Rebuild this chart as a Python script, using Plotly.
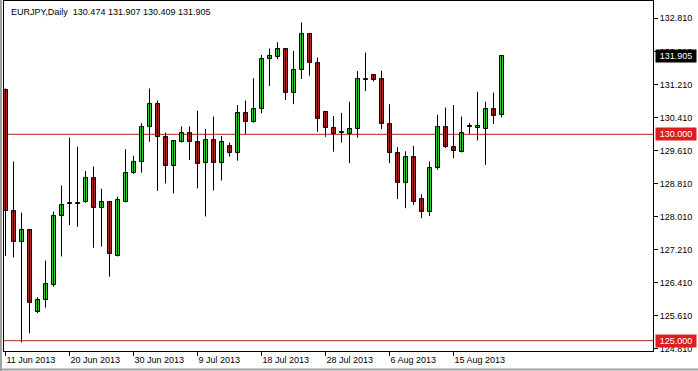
import plotly.graph_objects as go

# ---- data ----
dates = [
    "11 Jun 2013", "12 Jun 2013", "13 Jun 2013", "14 Jun 2013", "16 Jun 2013", "17 Jun 2013",
    "18 Jun 2013", "19 Jun 2013", "20 Jun 2013", "21 Jun 2013", "23 Jun 2013", "24 Jun 2013",
    "25 Jun 2013", "26 Jun 2013", "27 Jun 2013", "28 Jun 2013", "30 Jun 2013", "1 Jul 2013",
    "2 Jul 2013", "3 Jul 2013", "4 Jul 2013", "5 Jul 2013", "7 Jul 2013", "8 Jul 2013",
    "9 Jul 2013", "10 Jul 2013", "11 Jul 2013", "12 Jul 2013", "14 Jul 2013", "15 Jul 2013",
    "16 Jul 2013", "17 Jul 2013", "18 Jul 2013", "19 Jul 2013", "21 Jul 2013", "22 Jul 2013",
    "23 Jul 2013", "24 Jul 2013", "25 Jul 2013", "26 Jul 2013", "28 Jul 2013", "29 Jul 2013",
    "30 Jul 2013", "31 Jul 2013", "1 Aug 2013", "2 Aug 2013", "4 Aug 2013", "5 Aug 2013",
    "6 Aug 2013", "7 Aug 2013", "8 Aug 2013", "9 Aug 2013", "11 Aug 2013", "12 Aug 2013",
    "13 Aug 2013", "14 Aug 2013", "15 Aug 2013", "16 Aug 2013", "18 Aug 2013", "19 Aug 2013",
    "20 Aug 2013", "21 Aug 2013", "22 Aug 2013",
]
opens = [
    131.07, 128.14, 127.40, 127.68, 125.70, 125.99, 126.35, 128.01, 128.30, 128.30,
    128.37, 128.93, 128.21, 128.35, 127.06, 128.37, 129.07, 129.34, 130.17, 130.73,
    129.94, 129.23, 129.82, 130.02, 129.81, 129.30, 129.86, 129.31, 129.72, 129.54,
    130.51, 130.31, 130.61, 131.82, 131.87, 132.06, 131.01, 131.55, 132.43, 131.74,
    130.53, 130.15, 130.02, 130.00, 130.12, 131.32, 131.43, 131.33, 130.24, 129.54,
    128.81, 129.45, 128.43, 128.11, 129.18, 130.17, 129.69, 129.58, 130.17, 130.16,
    130.12, 130.61, 130.474,
]
highs = [
    131.11, 129.34, 128.10, 127.70, 126.05, 126.94, 128.13, 128.76, 129.92, 129.70,
    129.11, 129.22, 128.68, 128.36, 128.49, 129.64, 129.48, 130.27, 131.11, 130.82,
    130.04, 129.86, 130.19, 130.19, 130.57, 130.13, 130.43, 129.96, 129.80, 130.71,
    130.82, 131.36, 131.92, 132.08, 132.23, 132.08, 132.02, 132.71, 132.45, 131.86,
    130.55, 130.44, 130.52, 130.79, 131.53, 131.98, 131.45, 131.54, 130.73, 129.69,
    129.59, 129.72, 128.55, 129.34, 130.47, 130.65, 130.71, 130.43, 130.27, 131.03,
    130.79, 131.01, 131.907,
]
lows = [
    127.05, 127.02, 124.96, 125.18, 125.67, 125.80, 126.31, 127.04, 127.80, 127.76,
    128.34, 127.25, 127.28, 126.55, 127.04, 128.35, 129.04, 129.07, 129.82, 128.63,
    128.81, 128.57, 129.80, 129.38, 128.69, 128.01, 128.64, 128.88, 129.46, 129.36,
    130.01, 130.28, 130.51, 131.17, 131.82, 130.83, 130.73, 131.34, 131.42, 130.06,
    129.94, 129.58, 129.80, 129.30, 129.92, 131.05, 131.28, 130.13, 129.30, 128.43,
    128.21, 128.29, 127.97, 128.02, 129.14, 129.67, 129.42, 129.56, 130.01, 129.85,
    129.26, 130.25, 130.409,
]
closes = [
    128.14, 127.40, 127.68, 125.91, 125.99, 126.37, 128.02, 128.28, 128.30, 128.30,
    128.93, 128.21, 128.35, 127.09, 128.40, 129.07, 129.34, 130.17, 130.73, 129.94,
    129.23, 129.84, 130.02, 129.81, 129.27, 129.86, 129.31, 129.81, 129.54, 130.51,
    130.31, 130.61, 131.82, 131.90, 132.06, 131.01, 131.55, 132.43, 131.74, 130.36,
    130.15, 130.01, 130.02, 130.12, 131.33, 131.32, 131.32, 130.24, 129.54, 128.81,
    129.45, 128.35, 128.11, 129.18, 130.17, 129.69, 129.59, 130.02, 130.17, 130.16,
    130.61, 130.45, 131.905,
]
levels = [130.000, 125.000]
symbol = "EURJPY,Daily"
y_ticks = [132.810, 132.010, 131.210, 130.410, 129.610, 128.810, 128.010,
           127.210, 126.410, 125.610, 124.810]
x_tick_labels = ["11 Jun 2013", "20 Jun 2013", "30 Jun 2013", "9 Jul 2013",
                 "18 Jul 2013", "28 Jul 2013", "6 Aug 2013", "15 Aug 2013"]

# ---- styles ----
UP = "#32CD32"
DOWN = "#B22222"
LEVEL_LINE = "#B22222"
LEVEL_BOX = "#DC1E1E"
FRAME = "#A0A0A0"
FONT = "Liberation Sans"
FS = 9

n = len(dates)
idx = list(range(n))
x_tick_vals = [dates.index(lbl) for lbl in x_tick_labels]

wx, wy = [], []
for i in idx:
    wx += [i, i, None]
    wy += [lows[i], highs[i], None]

min_h = 0.03
body_base = [min(o, c) for o, c in zip(opens, closes)]
body_h = [max(abs(c - o), min_h) for o, c in zip(opens, closes)]
body_col = [UP if c >= o else DOWN for o, c in zip(opens, closes)]

fig = go.Figure()
fig.add_trace(go.Scatter(x=wx, y=wy, mode="lines",
                         line=dict(color="black", width=1),
                         hoverinfo="skip", showlegend=False))
fig.add_trace(go.Bar(x=idx, y=body_h, base=body_base, width=0.5,
                     marker=dict(color=body_col, line=dict(color="black", width=1)),
                     customdata=dates, hoverinfo="skip", showlegend=False))

for lv in levels:
    fig.add_shape(type="line", xref="paper", x0=0, x1=1, yref="y", y0=lv, y1=lv,
                  line=dict(color=LEVEL_LINE, width=1), layer="below")
    fig.add_annotation(xref="paper", x=1, xanchor="left", xshift=2, yref="y", y=lv,
                       text=f"{lv:.3f}", showarrow=False, bgcolor=LEVEL_BOX,
                       font=dict(family=FONT, size=FS, color="white"),
                       width=38, align="center", borderpad=1)

last = closes[-1]
fig.add_annotation(xref="paper", x=1, xanchor="left", xshift=2, yref="y", y=last,
                   text=f"{last:.3f}", showarrow=False, bgcolor="black",
                   font=dict(family=FONT, size=FS, color="white"),
                   width=38, align="center", borderpad=1)

title = f"{symbol}  {opens[-1]:.3f} {highs[-1]:.3f} {lows[-1]:.3f} {closes[-1]:.3f}"
fig.add_annotation(xref="paper", x=0, xanchor="left", xshift=5,
                   yref="paper", y=1, yanchor="top", yshift=-4,
                   text=title, showarrow=False,
                   font=dict(family=FONT, size=FS, color="black"))

# window frame (grey edges at left and bottom, as in the terminal screenshot)
fig.add_shape(type="line", xref="paper", yref="paper",
              x0=-3 / 649, x1=-3 / 649, y0=-20 / 350, y1=1 + 1 / 350,
              line=dict(color=FRAME, width=2))
fig.add_shape(type="line", xref="paper", yref="paper",
              x0=-4 / 649, x1=1 + 45 / 649, y0=-18.5 / 350, y1=-18.5 / 350,
              line=dict(color=FRAME, width=2))

fig.update_layout(
    width=698, height=371,
    margin=dict(l=4, r=45, t=1, b=20),
    paper_bgcolor="white", plot_bgcolor="white",
    bargap=0, showlegend=False,
    font=dict(family=FONT, size=FS, color="black"),
)
fig.update_xaxes(range=[-0.1875, 80.9375], tickvals=x_tick_vals, ticktext=x_tick_labels,
                 ticks="outside", ticklen=4, tickcolor="black",
                 ticklabelposition="outside right",
                 showline=True, linecolor="black", linewidth=1, mirror=True,
                 showgrid=False, zeroline=False, fixedrange=True)
fig.update_yaxes(side="right", range=[124.75, 133.23], tickvals=y_ticks,
                 ticktext=[f"{v:.3f}" for v in y_ticks],
                 ticks="outside", ticklen=4, tickcolor="black",
                 showline=True, linecolor="black", linewidth=1, mirror=True,
                 showgrid=False, zeroline=False, fixedrange=True)

fig.write_html("out.html")
